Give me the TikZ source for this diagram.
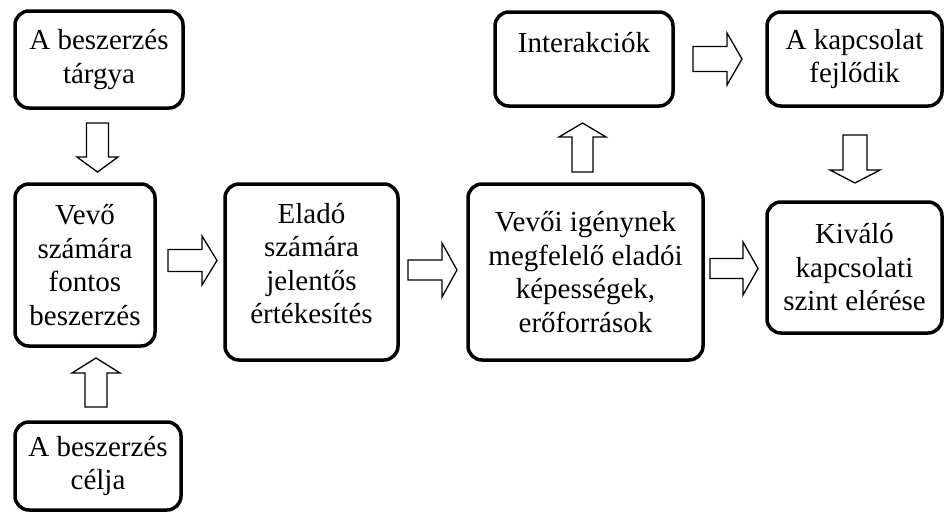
\documentclass[tikz,border=0pt]{standalone}
\usepackage{fontspec}
\setmainfont{Liberation Serif}
\usetikzlibrary{calc}
\tikzset{
  box/.style={draw, line width=3.5pt, rounded corners=14pt, align=center,
    font=\fontsize{29}{33.5}\selectfont, inner sep=0pt},
  barrowstyle/.style={draw, line width=1.3pt, fill=white, line join=miter},
}
% #1 start, #2 angle, #3 length, #4 half head width, #5 half shaft width, #6 head length
\newcommand\barrow[6]{\draw[barrowstyle, shift={(#1)}, rotate=#2]
  (0,#5) -- ({#3-#6},#5) -- ({#3-#6},#4) -- (#3,0) -- ({#3-#6},-#4)
  -- ({#3-#6},-#5) -- (0,-#5) -- cycle;}
\begin{document}
\begin{tikzpicture}[x=1pt,y=-1pt]
\useasboundingbox[fill=white] (0,0) rectangle (946,514);
\node[box, minimum width=168pt, minimum height=97pt] (b1) at (99,59.5) {A beszerzés\\tárgya};
\node[box, minimum width=140pt, minimum height=162pt] (b2) at (85,265) {Vevő\\számára\\fontos\\beszerzés};
\node[box, minimum width=166pt, minimum height=88pt] (b3) at (98,466) {A beszerzés\\célja};
\node[box, minimum width=173pt, minimum height=176pt] (b4) at (311.5,272) {\raisebox{5pt}[\height][\depth]{\begin{tabular}{@{}c@{}}Eladó\\számára\\jelentős\\értékesítés\end{tabular}}};
\node[box, minimum width=235pt, minimum height=176pt] (b5) at (585.5,272) {Vevői igénynek\\megfelelő eladói\\képességek,\\erőforrások};
\node[box, minimum width=175pt, minimum height=131pt] (b6) at (854.5,267.5) {Kiváló\\kapcsolati\\szint elérése};
\node[box, minimum width=178pt, minimum height=94pt] (b7) at (584,59) {\raisebox{16pt}[\height][\depth]{Interakciók}};
\node[box, minimum width=175pt, minimum height=94pt] (b8) at (854.5,59) {A kapcsolat\\fejlődik};
\barrow{97.5,123}{-90}{49}{20.5}{11}{15}
\barrow{96,407}{90}{49}{24}{11}{15}
\barrow{168,260.5}{0}{49}{24.5}{11}{15}
\barrow{408,270}{0}{49}{27}{10}{15}
\barrow{710,268.5}{0}{48}{26.5}{10}{15}
\barrow{582.5,172}{90}{49}{23.5}{10.5}{14}
\barrow{693,59}{0}{49}{26}{12.5}{15}
\barrow{855,135}{-90}{48}{25}{12}{13}
\end{tikzpicture}
\end{document}
